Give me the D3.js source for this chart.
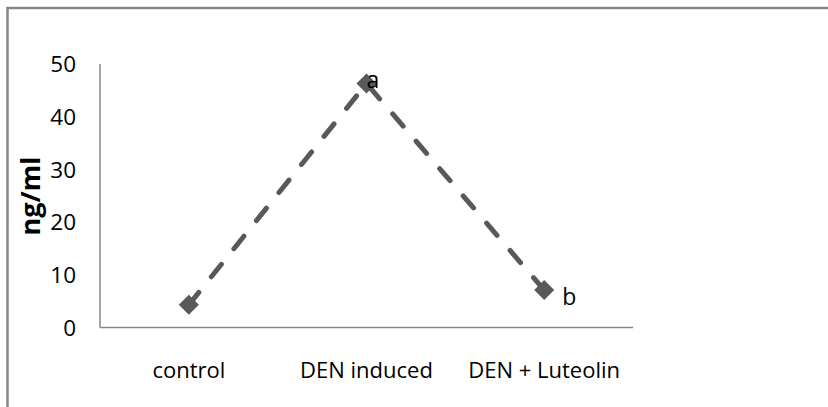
<!DOCTYPE html>
<html>
<head>
<meta charset="utf-8">
<script src="https://cdn.jsdelivr.net/npm/d3@7"></script>
<style>
  body { margin: 0; background: #fff; }
  text { font-family: "Open Sans", "Noto Sans", sans-serif; fill: #000; }
</style>
</head>
<body>
<svg width="828" height="407"></svg>
<script>
var categories = ["control", "DEN induced", "DEN + Luteolin"];
var values = [4.3, 46.3, 7.1];
var letters = ["", "a", "b"];
var yTicks = [0, 10, 20, 30, 40, 50];

var svg = d3.select("svg"),
    width = +svg.attr("width"),
    height = +svg.attr("height");

// outer chart frame (runs past the right and bottom edge)
svg.append("rect")
    .attr("x", 7.5)
    .attr("y", 8)
    .attr("width", 840)
    .attr("height", 420)
    .attr("fill", "none")
    .attr("stroke", "#868686")
    .attr("stroke-width", 2.5);

var plotLeft = 100, plotRight = 633, plotTop = 64, plotBottom = 327.5;

var x = d3.scalePoint()
    .domain(categories)
    .range([plotLeft, plotRight])
    .padding(0.5);

var y = d3.scaleLinear()
    .domain([0, 50])
    .range([plotBottom, plotTop]);

// axes lines
svg.append("line")
    .attr("x1", plotLeft).attr("x2", plotLeft)
    .attr("y1", plotTop).attr("y2", plotBottom)
    .attr("stroke", "#868686").attr("stroke-width", 1.5);
svg.append("line")
    .attr("x1", plotLeft).attr("x2", plotRight)
    .attr("y1", plotBottom).attr("y2", plotBottom)
    .attr("stroke", "#868686").attr("stroke-width", 1.5);

svg.selectAll(".ytick")
    .data(yTicks)
    .enter().append("text")
      .attr("class", "ytick")
      .attr("x", 76)
      .attr("y", function(d) { return y(d); })
      .attr("dy", "0.36em")
      .style("text-anchor", "end")
      .style("font-size", "22.5px")
      .text(function(d) { return d; });

svg.selectAll(".xlab")
    .data(categories)
    .enter().append("text")
      .attr("class", "xlab")
      .attr("x", function(d) { return x(d); })
      .attr("y", 378)
      .style("text-anchor", "middle")
      .style("font-size", "22px")
      .text(function(d) { return d; });

svg.append("text")
    .attr("transform", "translate(40,196) rotate(-90)")
    .style("text-anchor", "middle")
    .style("font-size", "27px")
    .style("font-weight", "bold")
    .text("ng/ml");

var pts = categories.map(function(c, i) { return {c: c, v: values[i], l: letters[i]}; });

var line = d3.line()
    .x(function(d) { return x(d.c); })
    .y(function(d) { return y(d.v); });

svg.append("path")
    .datum(pts)
    .attr("d", line)
    .attr("fill", "none")
    .attr("stroke", "#595959")
    .attr("stroke-width", 5)
    .attr("stroke-linecap", "round")
    .attr("stroke-dasharray", "16,20");

svg.selectAll(".pt")
    .data(pts)
    .enter().append("path")
      .attr("class", "pt")
      .attr("transform", function(d) { return "translate(" + x(d.c) + "," + y(d.v) + ")"; })
      .attr("d", "M0,-10L10,0L0,10L-10,0Z")
      .attr("fill", "#595959");

svg.selectAll(".lt")
    .data(pts)
    .enter().append("text")
      .attr("class", "lt")
      .attr("x", function(d) { return x(d.c) + (d.l === "b" ? 18 : 0); })
      .attr("y", function(d) { return y(d.v) + (d.l === "b" ? 15 : 5); })
      .style("font-size", "23px")
      .text(function(d) { return d.l; });
</script>
</body>
</html>
